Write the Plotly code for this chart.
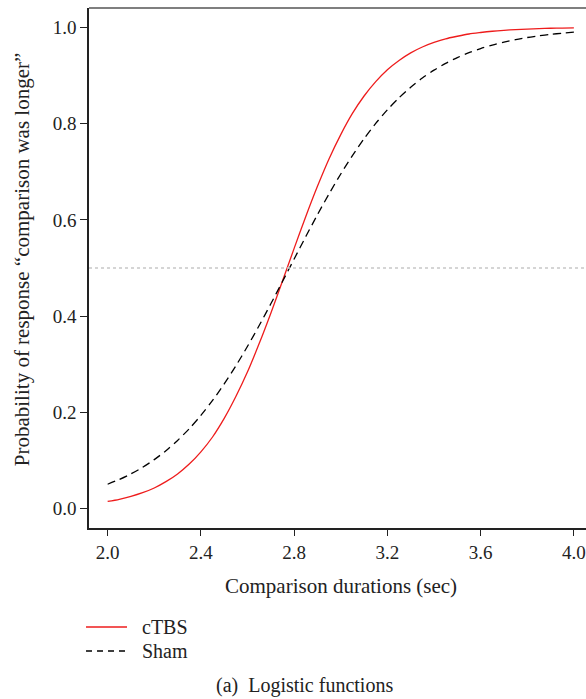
import plotly.graph_objects as go

durations = [2.00, 2.05, 2.10, 2.15, 2.20, 2.25, 2.30, 2.35, 2.40, 2.45, 2.50,
             2.55, 2.60, 2.65, 2.70, 2.75, 2.80, 2.85, 2.90, 2.95, 3.00,
             3.05, 3.10, 3.15, 3.20, 3.25, 3.30, 3.35, 3.40, 3.45, 3.50,
             3.55, 3.60, 3.65, 3.70, 3.75, 3.80, 3.85, 3.90, 3.95, 4.00]
ctbs = [0.0151, 0.0196, 0.0256, 0.0333, 0.0431, 0.0562, 0.0723, 0.0928, 0.1182, 0.1490, 0.1876,
        0.2330, 0.2843, 0.3430, 0.4062, 0.4730, 0.5407, 0.6070, 0.6696, 0.7270, 0.7771,
        0.8210, 0.8572, 0.8870, 0.9118, 0.9310, 0.9468, 0.9590, 0.9684, 0.9760, 0.9813,
        0.9860, 0.9891, 0.9917, 0.9936, 0.9951, 0.9963, 0.9972, 0.9979, 0.9984, 0.9987]
sham = [0.0509, 0.0608, 0.0724, 0.0861, 0.1020, 0.1205, 0.1419, 0.1662, 0.1939, 0.2249, 0.2592,
        0.2968, 0.3374, 0.3805, 0.4256, 0.4719, 0.5187, 0.5653, 0.6107, 0.6542, 0.6953,
        0.7335, 0.7685, 0.8002, 0.8285, 0.8535, 0.8754, 0.8945, 0.9109, 0.9250, 0.9370,
        0.9472, 0.9558, 0.9631, 0.9692, 0.9744, 0.9787, 0.9822, 0.9852, 0.9877, 0.9898]
x_ticks = [2.0, 2.4, 2.8, 3.2, 3.6, 4.0]
y_ticks = [0.0, 0.2, 0.4, 0.6, 0.8, 1.0]
series_names = ["cTBS", "Sham"]

FONT = "Liberation Serif"
TXT = "#222222"
RED = "#ee1c1c"

fig = go.Figure()
fig.add_trace(go.Scatter(x=durations, y=ctbs, mode="lines", name=series_names[0],
                         showlegend=False, hoverinfo="skip",
                         line=dict(color=RED, width=1.3, shape="spline", smoothing=0.8)))
fig.add_trace(go.Scatter(x=durations, y=sham, mode="lines", name=series_names[1],
                         showlegend=False, hoverinfo="skip",
                         line=dict(color="black", width=1.3, shape="spline", smoothing=0.8,
                                   dash="8px,5px")))

# reference line at 0.5 and top frame line
fig.add_shape(type="line", xref="paper", yref="y", x0=0, x1=1, y0=0.5, y1=0.5,
              line=dict(color="#c8c8c8", width=1.5, dash="dot"))
fig.add_shape(type="line", xref="paper", yref="paper", x0=0, x1=1, y0=1, y1=1,
              line=dict(color="#555555", width=1.5))

# legend (drawn below the plot)
leg_y = [-0.1904, -0.2365]
fig.add_shape(type="line", xref="paper", yref="paper", x0=-0.006, x1=0.0765,
              y0=leg_y[0], y1=leg_y[0], line=dict(color=RED, width=1.3))
fig.add_shape(type="line", xref="paper", yref="paper", x0=-0.006, x1=0.0765,
              y0=leg_y[1], y1=leg_y[1], line=dict(color="black", width=1.3, dash="6px,5px"))

annotations = [
    dict(text="Comparison durations (sec)", xref="paper", yref="paper",
         x=0.507, y=-0.1115, xanchor="center", yanchor="middle", showarrow=False,
         font=dict(family=FONT, size=21, color=TXT)),
    dict(text="Probability of response \u201ccomparison was longer\u201d", xref="paper", yref="paper",
         x=-0.1348, y=0.515, xanchor="center", yanchor="middle", textangle=-90, showarrow=False,
         font=dict(family=FONT, size=21, color=TXT)),
    dict(text="(a)  Logistic functions", xref="paper", yref="paper",
         x=0.4336, y=-0.3038, xanchor="center", yanchor="middle", showarrow=False,
         font=dict(family=FONT, size=20, color=TXT)),
]
for name, yy in zip(series_names, leg_y):
    annotations.append(dict(text=name, xref="paper", yref="paper", x=0.1026, y=yy,
                            xanchor="left", yanchor="middle", showarrow=False,
                            font=dict(family=FONT, size=20, color=TXT)))

fig.update_layout(
    width=586, height=699,
    margin=dict(l=89, r=0, t=8, b=171),
    paper_bgcolor="white", plot_bgcolor="white",
    font=dict(family=FONT, size=19, color=TXT),
    showlegend=False,
    xaxis=dict(range=[1.92, 4.052], tickvals=x_ticks,
               ticktext=[f"{v:.1f}" for v in x_ticks],
               showgrid=False, zeroline=False, showline=True, linecolor=TXT, linewidth=1.5,
               ticks="outside", ticklen=6, tickwidth=1.3, tickcolor=TXT,
               tickfont=dict(family=FONT, size=19, color=TXT)),
    yaxis=dict(range=[-0.04, 1.04], tickvals=y_ticks,
               ticktext=[f"{v:.1f}" for v in y_ticks],
               showgrid=False, zeroline=False, showline=True, linecolor=TXT, linewidth=1.5,
               ticks="outside", ticklen=7, tickwidth=1.3, tickcolor=TXT,
               tickfont=dict(family=FONT, size=19, color=TXT)),
    annotations=annotations,
)

fig.write_html("out.html", config={"displayModeBar": False},
               post_script="document.body.style.margin='0';document.body.style.overflow='hidden';")
